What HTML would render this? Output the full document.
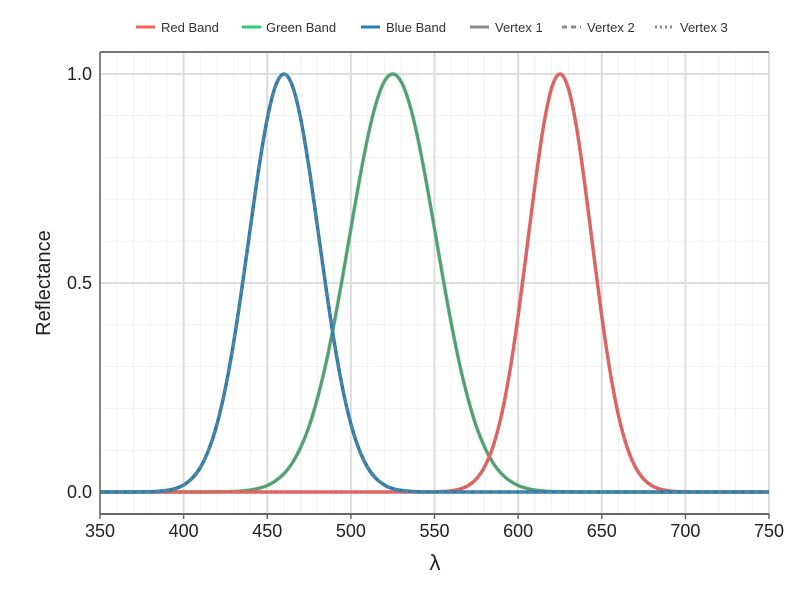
<!DOCTYPE html>
<html><head><meta charset="utf-8"><style>
body{margin:0;background:#fff;}
svg{display:block;font-family:"Liberation Sans",sans-serif;}
</style></head><body>
<svg id="chart" width="800" height="600">
<rect width="800" height="600" fill="#fff"/>
<g id="grid"></g>
<g id="series"></g>
<g id="axes"></g>
<g id="legend"></g>
<text x="50" y="283" font-size="20" fill="#222" text-anchor="middle" transform="rotate(-90 50 283)">Reflectance</text>
<text x="435" y="570" font-size="22" fill="#222" text-anchor="middle">λ</text>
</svg>
<script>
const xTicks=[350,400,450,500,550,600,650,700,750];
const yTicks=[0,0.5,1];
const yTickLabels=["0.0","0.5","1.0"];
const wavelengths=[];for(let w=350;w<=750;w+=5)wavelengths.push(w);
const blueBand=[0,0,0,0,.0001,.0003,.0007,.0017,.0039,.0083,.0169,.0324,.0588,.101,.163,.249,.360,.492,.635,.775,.893,.972,1,.972,.893,.775,.635,.492,.360,.249,.163,.101,.0588,.0324,.0169,.0083,.0039,.0017,.0007,.0003,.0001,
0,0,0,0,0,0,0,0,0,0,0,0,0,0,0,0,0,0,0,0,0,0,0,0,0,0,0,0,0,0,0,0,0,0,0,0,0,0,0,0];
const greenBand=[0,0,0,0,0,0,0,0,0,0,0,0,0,
.0001,.0003,.0006,.0013,.0025,.0048,.0088,.0156,.0267,.0439,.0697,.107,.157,.224,.306,.404,.514,.630,.744,.847,.929,.982,1,
.982,.929,.847,.744,.630,.514,.404,.306,.224,.157,.107,.0697,.0439,.0267,.0156,.0088,.0048,.0025,.0013,.0006,.0003,.0001,
0,0,0,0,0,0,0,0,0,0,0,0,0,0,0,0,0,0,0,0,0,0,0];
const redBand=[0,0,0,0,0,0,0,0,0,0,0,0,0,0,0,0,0,0,0,0,0,0,0,0,0,0,0,0,0,0,0,0,0,0,0,0,0,0,0,
.0001,.0004,.0011,.0029,.0068,.0151,.0313,.0605,.109,.183,.288,.421,.575,.732,.871,.966,1,
.966,.871,.732,.575,.421,.288,.183,.109,.0605,.0313,.0151,.0068,.0029,.0011,.0004,.0001,
0,0,0,0,0,0,0,0,0];

const L=100,R=769,T=52,B=514;
const xMin=350,xMax=750,yMin=-0.0526,yMax=1.0526;
const xs=v=>L+(v-xMin)/(xMax-xMin)*(R-L);
const ys=v=>B-(v-yMin)/(yMax-yMin)*(B-T);
const NS="http://www.w3.org/2000/svg";
function mk(tag,attrs,parent){const e=document.createElementNS(NS,tag);for(const k in attrs)e.setAttribute(k,attrs[k]);parent.appendChild(e);return e;}
const grid=document.getElementById('grid'),axes=document.getElementById('axes'),series=document.getElementById('series'),legend=document.getElementById('legend');

for(let v=360;v<750;v+=10){if(v%50===0)continue;const l=mk('line',{x1:xs(v),x2:xs(v),y1:T,y2:B,stroke:'#f2f2f2','stroke-width':1},grid);

}
for(let v=-0.0;v<=1.0001;v+=0.1){const vv=Math.round(v*10)/10;if(vv===0||vv===0.5||vv===1)continue;const l=mk('line',{x1:L,x2:R,y1:ys(vv),y2:ys(vv),stroke:'#f2f2f2','stroke-width':1},grid);

}
xTicks.forEach(v=>{const l=mk('line',{x1:xs(v),x2:xs(v),y1:T,y2:B,stroke:'#ddd','stroke-width':2},grid);


const t=mk('line',{x1:xs(v),x2:xs(v),y1:B,y2:B+5,stroke:'#666','stroke-width':1.5},axes);


const tx=mk('text',{x:xs(v),y:B+23,'font-size':18,fill:'#222','text-anchor':'middle'},axes);tx.textContent=v;

});
yTicks.forEach((v,i)=>{const l=mk('line',{x1:L,x2:R,y1:ys(v),y2:ys(v),stroke:'#ddd','stroke-width':2},grid);


const tx=mk('text',{x:L-8,y:ys(v)+6,'font-size':18,fill:'#222','text-anchor':'end'},axes);tx.textContent=yTickLabels[i];

});
const ax1=mk('line',{x1:L,x2:L,y1:T,y2:B,stroke:'#666','stroke-width':1.5},axes);


const ax2=mk('line',{x1:L,x2:R,y1:B,y2:B,stroke:'#666','stroke-width':2},axes);


const ax3=mk('line',{x1:L,x2:R,y1:T,y2:T,stroke:'#777','stroke-width':2},axes);



function pathFor(vals){const p=vals.map((v,i)=>[xs(wavelengths[i]),ys(v)]);let d='M'+p[0][0]+','+p[0][1];
for(let i=0;i<p.length-1;i++){const p0=p[Math.max(0,i-1)],p1=p[i],p2=p[i+1],p3=p[Math.min(p.length-1,i+2)];
d+=' C'+(p1[0]+(p2[0]-p0[0])/6)+','+(p1[1]+(p2[1]-p0[1])/6)+' '+(p2[0]-(p3[0]-p1[0])/6)+','+(p2[1]-(p3[1]-p1[1])/6)+' '+p2[0]+','+p2[1];}return d;}
const bands=[{n:'green',v:greenBand,c:'#2ecc71',dash:'none',op:0.8},{n:'red',v:redBand,c:'#f0605d',dash:'2 3',op:0.7},{n:'blue',v:blueBand,c:'#1f7fb8',dash:'6 3',op:0.7}];
bands.forEach(b=>{const p=mk('path',{d:pathFor(b.v),fill:'none',stroke:b.c,'stroke-width':3.5},series);


const q=mk('path',{d:pathFor(b.v),fill:'none',stroke:'#808080','stroke-opacity':b.op,'stroke-width':2.2,'stroke-dasharray':b.dash},series);

});

const items=[["Red Band",136,161,'#f0605d','none'],["Green Band",242,266,'#2ecc71','none'],["Blue Band",361,386,'#1f7fb8','none'],["Vertex 1",470,495,'#888','none'],["Vertex 2",562,587,'#888','5 4'],["Vertex 3",655,680,'#888','2 3']];
items.forEach(it=>{const g=mk('g',{},legend);


mk('line',{x1:it[1],x2:it[1]+19,y1:27,y2:27,stroke:it[3],'stroke-width':3,'stroke-dasharray':it[4]},g);
const t=mk('text',{x:it[2],y:32,'font-size':13,fill:'#333'},g);t.textContent=it[0];});
</script>
</body></html>
